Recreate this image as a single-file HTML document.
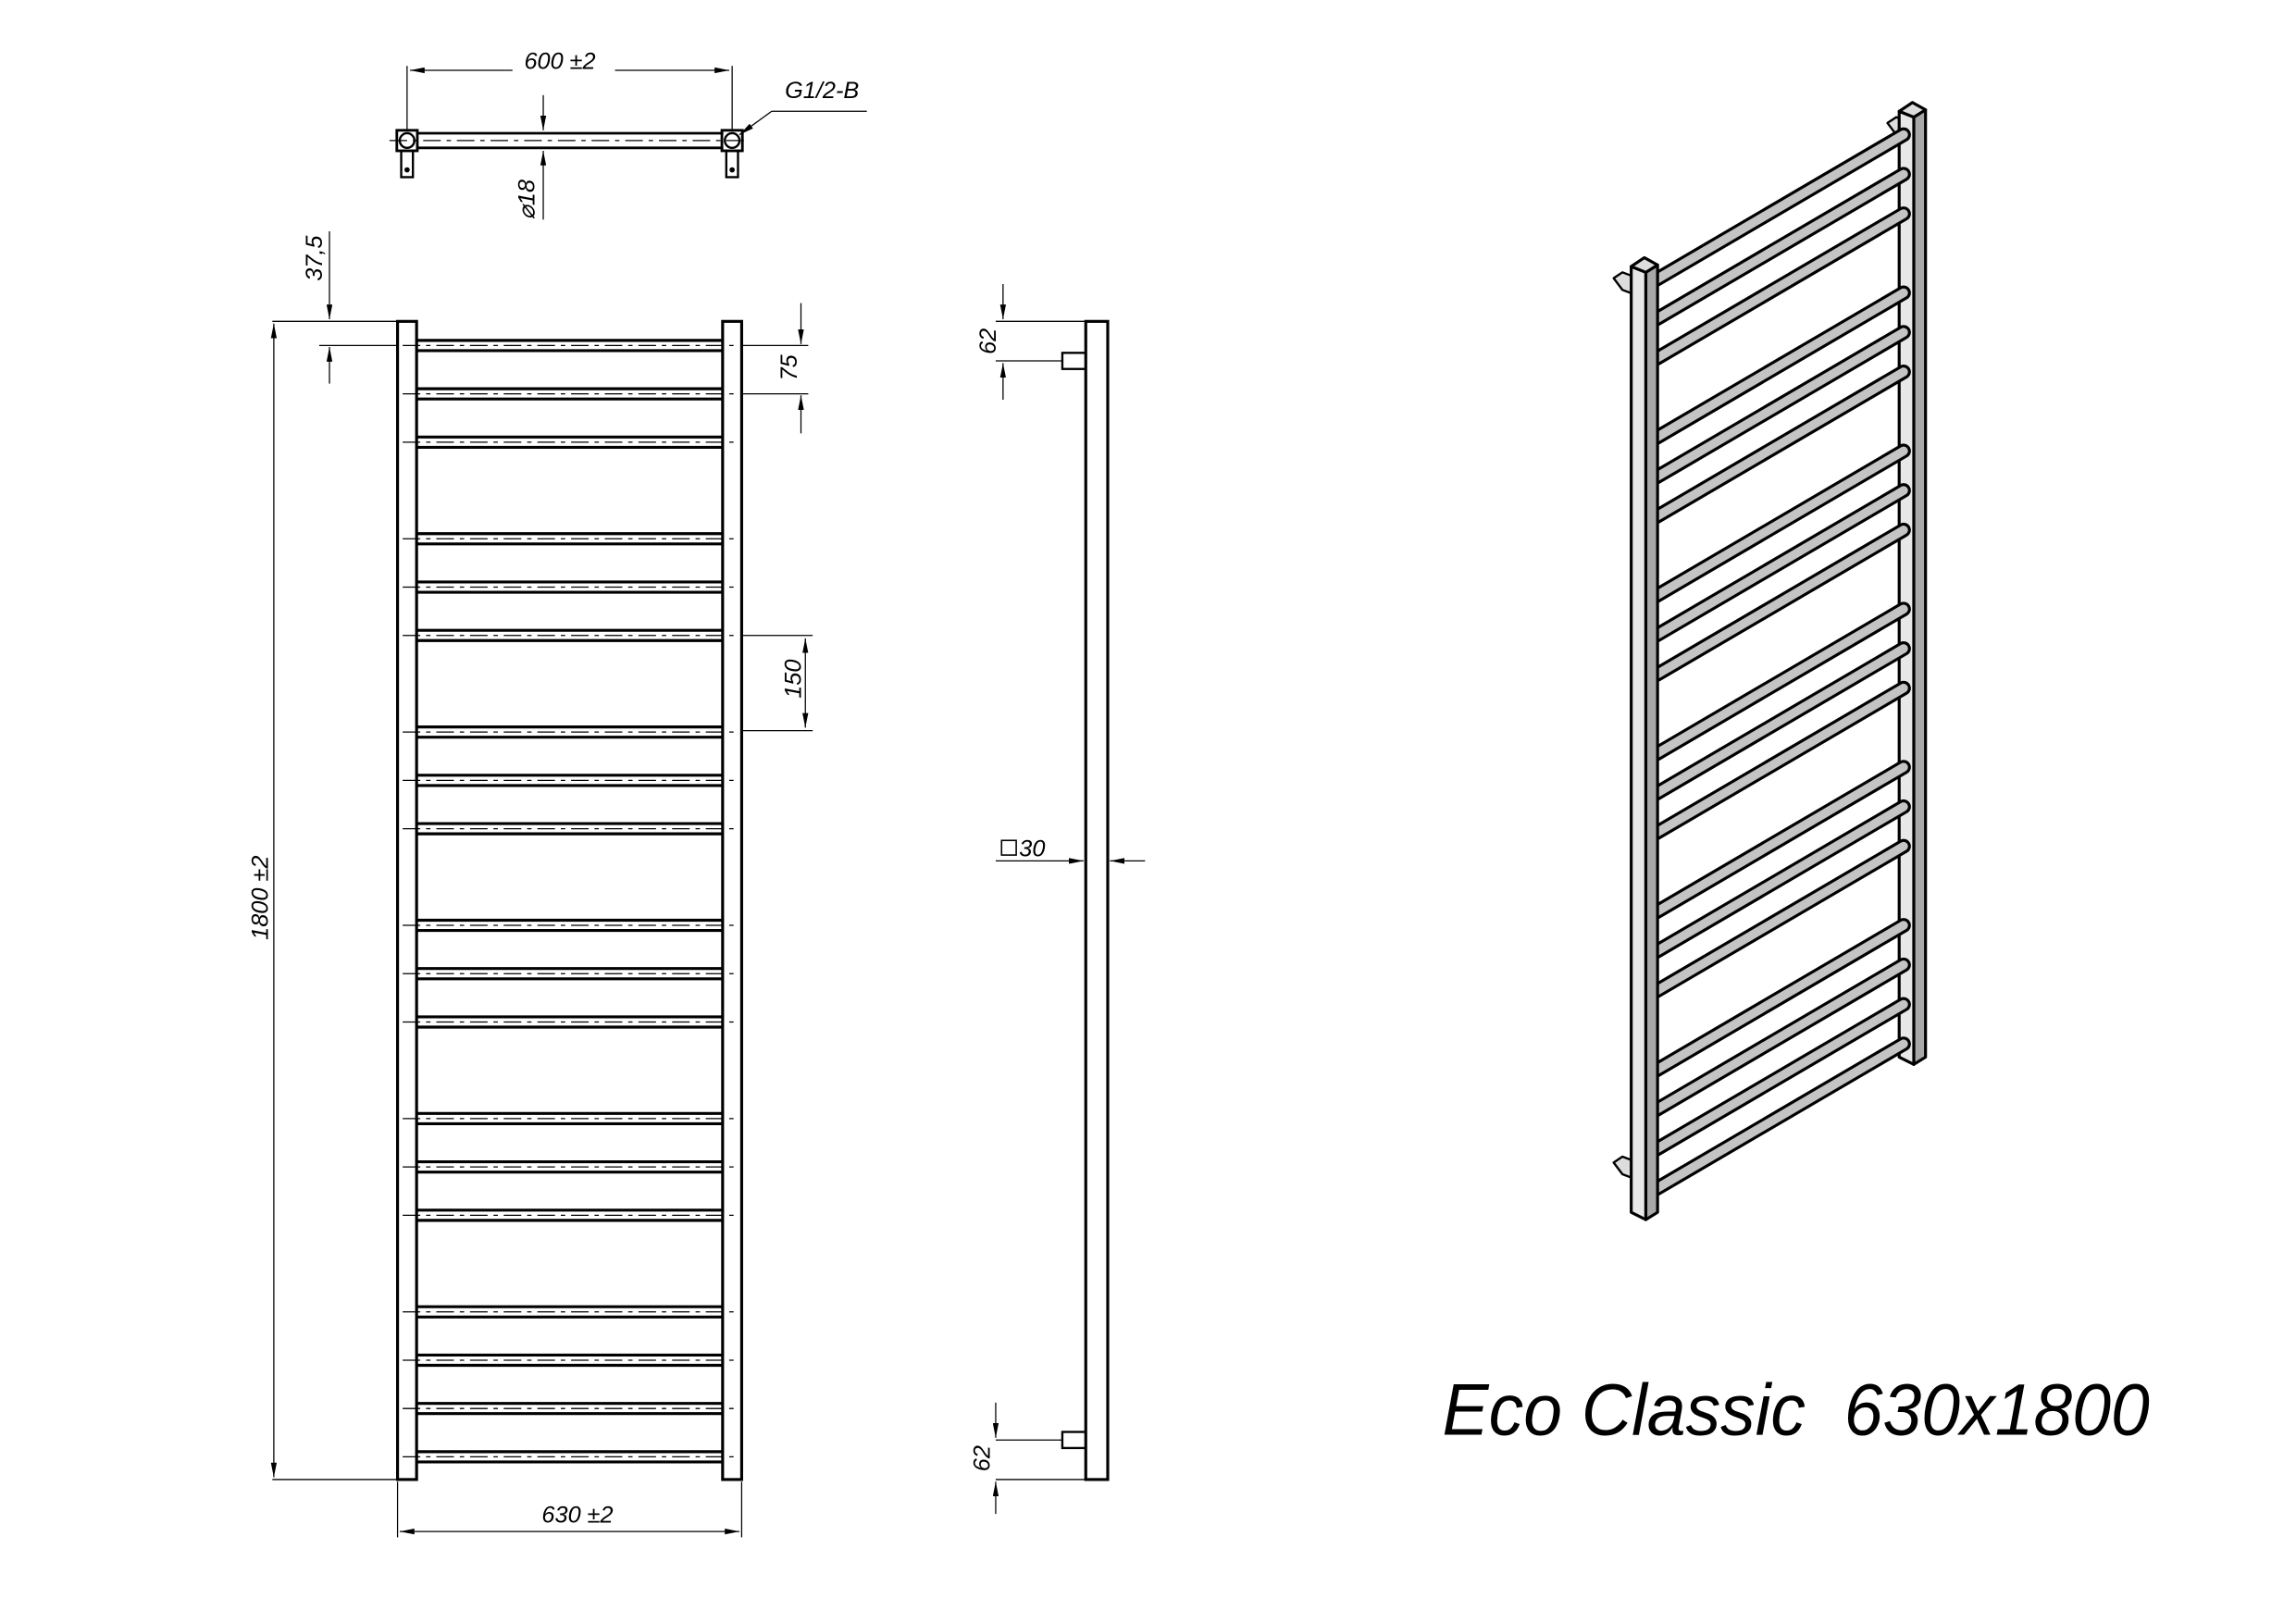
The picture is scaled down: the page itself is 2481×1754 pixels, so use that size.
<!DOCTYPE html>
<html><head><meta charset="utf-8"><style>
html,body{margin:0;padding:0;background:#fff;}
svg{display:block;}
text{font-family:"Liberation Sans",sans-serif;font-style:italic;fill:#000;}
</style></head><body>
<svg id="s" width="2481" height="1754" viewBox="0 0 1568 1108.5" preserveAspectRatio="none" xmlns="http://www.w3.org/2000/svg">
<defs>
<marker id="a" viewBox="0 0 10 4" refX="10" refY="2" markerWidth="10" markerHeight="4" markerUnits="userSpaceOnUse" orient="auto-start-reverse"><path d="M0,0 L10,2 L0,4 z" fill="#000"/></marker>
</defs>
<g id="front" stroke="#000" fill="none">
<rect x="271.5" y="219.5" width="13" height="791" stroke-width="2"/>
<rect x="493.5" y="219.5" width="13" height="791" stroke-width="2"/>
<g id="bars"></g>
<g stroke-width="0.8">
<line x1="186" y1="219.5" x2="271" y2="219.5"/>
<line x1="186" y1="1010.5" x2="271" y2="1010.5"/>
<line x1="187" y1="221" x2="187" y2="1009" marker-start="url(#a)" marker-end="url(#a)"/>
<line x1="271.5" y1="1012" x2="271.5" y2="1050"/>
<line x1="506.5" y1="1012" x2="506.5" y2="1050"/>
<line x1="273" y1="1046" x2="505" y2="1046" marker-start="url(#a)" marker-end="url(#a)"/>
<line x1="225" y1="158" x2="225" y2="218" marker-end="url(#a)"/>
<line x1="225" y1="262" x2="225" y2="237" marker-end="url(#a)"/>
<line x1="218" y1="236" x2="271" y2="236"/>
<line x1="547" y1="207" x2="547" y2="235" marker-end="url(#a)"/>
<line x1="547" y1="296" x2="547" y2="270" marker-end="url(#a)"/>
<line x1="507" y1="236" x2="552" y2="236"/>
<line x1="507" y1="269" x2="552" y2="269"/>
<line x1="550" y1="436" x2="550" y2="497" marker-start="url(#a)" marker-end="url(#a)"/>
<line x1="507" y1="434" x2="555" y2="434"/>
<line x1="507" y1="499" x2="555" y2="499"/>
</g>
</g>
<text transform="translate(183,642) rotate(-90)" font-size="16">1800 ±2</text>
<text transform="translate(220,192) rotate(-90)" font-size="16">37,5</text>
<text transform="translate(544,260) rotate(-90)" font-size="16">75</text>
<text transform="translate(547,477) rotate(-90)" font-size="16">150</text>
<text x="370" y="1040" font-size="16">630 ±2</text>

<g stroke="#000" fill="none">
<line x1="285" y1="91" x2="494" y2="91" stroke-width="1.8"/>
<line x1="285" y1="101" x2="494" y2="101" stroke-width="1.8"/>
<line x1="266" y1="96" x2="512" y2="96" stroke-width="0.8" stroke-dasharray="12,4,3,4"/>
<rect x="271" y="89" width="14" height="14" stroke-width="1.8"/>
<rect x="493" y="89" width="14" height="14" stroke-width="1.8"/>
<circle cx="278" cy="96" r="5" stroke-width="1.5"/>
<circle cx="500" cy="96" r="5" stroke-width="1.5"/>
<rect x="274" y="103" width="8" height="18" stroke-width="1.5"/>
<rect x="496" y="103" width="8" height="18" stroke-width="1.5"/>
<circle cx="278" cy="116" r="1.3" fill="#000"/>
<circle cx="500" cy="116" r="1.3" fill="#000"/>
<g stroke-width="0.8">
<line x1="278" y1="45" x2="278" y2="89"/>
<line x1="500" y1="45" x2="500" y2="89"/>
<line x1="280" y1="48" x2="498" y2="48" marker-start="url(#a)" marker-end="url(#a)"/>
<line x1="371" y1="65" x2="371" y2="89" marker-end="url(#a)"/>
<line x1="371" y1="150" x2="371" y2="103" marker-end="url(#a)"/>
<line x1="592" y1="76" x2="527" y2="76"/>
<line x1="527" y1="76" x2="505" y2="92" marker-end="url(#a)"/>
</g>
</g>
<text x="358" y="46" font-size="16" style="display:none">600 ±2</text>
<rect x="350" y="38" width="70" height="18" fill="#fff"/>
<text x="358" y="47" font-size="16">600 ±2</text>
<text x="536" y="67" font-size="16">G1/2-B</text>
<text transform="translate(365,150) rotate(-90)" font-size="16">⌀18</text>

<g stroke="#000" fill="none">
<rect x="741.5" y="219.5" width="15" height="791" stroke-width="2"/>
<rect x="725.5" y="241" width="16" height="11" stroke-width="1.5"/>
<rect x="725.5" y="978" width="16" height="11" stroke-width="1.5"/>
<g stroke-width="0.8">
<line x1="680" y1="219.5" x2="741" y2="219.5"/>
<line x1="680" y1="246.5" x2="725" y2="246.5"/>
<line x1="685" y1="194" x2="685" y2="218" marker-end="url(#a)"/>
<line x1="685" y1="273" x2="685" y2="248" marker-end="url(#a)"/>
<line x1="680" y1="983.5" x2="725" y2="983.5"/>
<line x1="680" y1="1010.5" x2="741" y2="1010.5"/>
<line x1="680" y1="958" x2="680" y2="982" marker-end="url(#a)"/>
<line x1="680" y1="1034" x2="680" y2="1012" marker-end="url(#a)"/>
<line x1="680" y1="588" x2="740" y2="588" marker-end="url(#a)"/>
<line x1="782" y1="588" x2="758" y2="588" marker-end="url(#a)"/>
</g>
<rect x="684" y="574" width="10" height="10" stroke-width="1"/>
</g>
<text transform="translate(680,242) rotate(-90)" font-size="16">62</text>
<text transform="translate(676,1005) rotate(-90)" font-size="16">62</text>
<text x="696" y="585" font-size="16">30</text>

<g id="iso" stroke="#000" stroke-linejoin="round">
<path d="M1289,84 l6,-4 l8,3 v12 l-8,-3 z" fill="#ddd" stroke-width="1.5"/>
<polygon points="1297,76 1297,722 1307,727 1307,80" fill="#e8e8e8" stroke-width="2"/>
<polygon points="1307,80 1307,727 1315,722 1315,75" fill="#a8a8a8" stroke-width="2"/>
<polygon points="1297,76 1306,70 1315,75 1307,80" fill="#ddd" stroke-width="2"/>
<g id="isobars"></g>
<path d="M1102,190 l6,-4 l8,3 v12 l-8,-3 z" fill="#ddd" stroke-width="1.5"/>
<path d="M1102,794 l6,-4 l8,3 v12 l-8,-3 z" fill="#ddd" stroke-width="1.5"/>
<polygon points="1114,182 1114,828 1124,833 1124,186" fill="#e8e8e8" stroke-width="2"/>
<polygon points="1124,186 1124,833 1132,828 1132,181" fill="#a8a8a8" stroke-width="2"/>
<polygon points="1114,182 1123,176 1132,181 1124,186" fill="#ddd" stroke-width="2"/>
</g>
<text x="985" y="980" font-size="50" textLength="483" lengthAdjust="spacingAndGlyphs">Eco Classic&#160;&#160;630x1800</text>
</svg>
<script>
var NS="http://www.w3.org/2000/svg";
function el(p,t,a){var e=document.createElementNS(NS,t);for(var k in a)e.setAttribute(k,a[k]);p.appendChild(e);return e;}
var bars=document.getElementById("bars"),ib=document.getElementById("isobars");
var cs=[];for(var g=0;g<6;g++)for(var i=0;i<3;i++){cs.push(236+132*g+33*i);}cs.push(995);
cs.forEach(function(c){
 el(bars,"line",{x1:285,y1:c-3.5,x2:493,y2:c-3.5,"stroke-width":2});
 el(bars,"line",{x1:285,y1:c+3.5,x2:493,y2:c+3.5,"stroke-width":2});
 el(bars,"line",{x1:275,y1:c,x2:503,y2:c,"stroke-width":0.8,"stroke-dasharray":"12,4,3,4"});
});
var rs=[];for(var g=0;g<6;g++)for(var i=0;i<3;i++){rs.push(92+108*g+27*i);}rs.push(92+540+81);
rs.forEach(function(y){
 el(ib,"line",{x1:1300,y1:y,x2:1131,y2:y+99,stroke:"#000","stroke-width":10,"stroke-linecap":"round"});
 el(ib,"line",{x1:1300,y1:y,x2:1131,y2:y+99,stroke:"#c4c4c4","stroke-width":6,"stroke-linecap":"round"});
});
</script>
</body></html>
